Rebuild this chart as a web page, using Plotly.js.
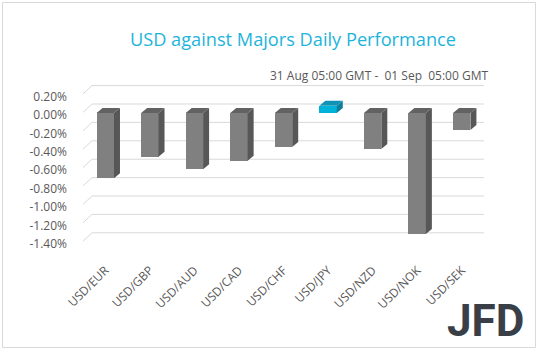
<!DOCTYPE html>
<html>
<head>
<meta charset="utf-8">
<script src="https://cdn.plot.ly/plotly-3.0.1.min.js"></script>
<style>html,body{margin:0;padding:0;background:#fff;}#chart{width:538px;height:351px;}</style>
</head>
<body>
<div id="chart"></div>
<script>
// ---- data ----
const categories = ['USD/EUR','USD/GBP','USD/AUD','USD/CAD','USD/CHF','USD/JPY','USD/NZD','USD/NOK','USD/SEK'];
const values = [-0.71, -0.475, -0.61, -0.52, -0.37, 0.08, -0.39, -1.315, -0.185]; // percent
const yTickVals = [0.2, 0, -0.2, -0.4, -0.6, -0.8, -1.0, -1.2, -1.4];
const yTickLabels = ['0.20%','0.00%','-0.20%','-0.40%','-0.60%','-0.80%','-1.00%','-1.20%','-1.40%'];
const titleText = 'USD against Majors Daily Performance';
const subtitleText = '31 Aug 05:00 GMT -\u00a0 01 Sep\u00a0 05:00 GMT';

// ---- geometry / style ----
const W = 538, H = 351;
const M = {l: 83, r: 54, t: 80, b: 101};
const plotW = W - M.l - M.r, plotH = H - M.t - M.b;
const xRange = [-0.5, 8.5];
const yRange = [-1.489, 0.3587];
const pxX = plotW / (xRange[1] - xRange[0]);
const pxY = plotH / (yRange[1] - yRange[0]);
const hw = 8.7 / pxX;       // half width of bar front
const ddx = 6 / pxX;        // bar depth x
const ddy = 5 / pxY;        // bar depth y
const wallDx = 10 / pxX, wallDy = 9 / pxY;

const greyFront = '#808080', greySide = '#575757', greyTop = '#626262';
const cyanFront = '#00b2da', cyanSide = '#0a7e9b', cyanTop = '#0f93b5';
const isHi = categories.map(c => c === 'USD/JPY');

const xs = categories.map((c, i) => i);
const traces = [];
traces.push({
  type: 'bar', x: xs, y: values, base: 0, width: 2 * hw,
  marker: {color: values.map((v, i) => isHi[i] ? cyanFront : greyFront), line: {width: 0}},
  hoverinfo: 'skip', showlegend: false
});
values.forEach((v, i) => {
  const top = Math.max(0, v), bot = Math.min(0, v);
  const xr = i + hw, xl = i - hw;
  traces.push({
    type: 'scatter', mode: 'lines', fill: 'toself',
    x: [xr, xr + ddx, xr + ddx, xr, xr],
    y: [bot, bot + ddy, top + ddy, top, bot],
    fillcolor: isHi[i] ? cyanSide : greySide, line: {width: 0},
    hoverinfo: 'skip', showlegend: false
  });
  traces.push({
    type: 'scatter', mode: 'lines', fill: 'toself',
    x: [xl, xr, xr + ddx, xl + ddx, xl],
    y: [top, top, top + ddy, top + ddy, top],
    fillcolor: isHi[i] ? cyanTop : greyTop, line: {width: 0},
    hoverinfo: 'skip', showlegend: false
  });
});

// gridlines on back wall + diagonal connectors
const shapes = [];
yTickVals.forEach(v => {
  shapes.push({type: 'line', layer: 'below', xref: 'x', yref: 'y',
    x0: xRange[0] + (9 / pxX), x1: xRange[1] + wallDx + 1 / pxX,
    y0: v + wallDy, y1: v + wallDy, line: {color: '#d9d9d9', width: 1}});
  shapes.push({type: 'line', layer: 'below', xref: 'x', yref: 'y',
    x0: xRange[0] - 4 / pxX, x1: xRange[0] + 9 / pxX,
    y0: v - 3 / pxY, y1: v + wallDy, line: {color: '#d9d9d9', width: 1}});
});
// outer frame
const toPX = px => (px - M.l) / plotW;
const toPY = py => (H - M.b - py) / plotH;
shapes.push({type: 'rect', xref: 'paper', yref: 'paper',
  x0: toPX(2.5), x1: toPX(535.5), y0: toPY(347.5), y1: toPY(2.5),
  line: {color: '#d9d9d9', width: 1}, fillcolor: 'rgba(0,0,0,0)'});

const font = 'Open Sans, Noto Sans, sans-serif';
const layout = {
  width: W, height: H, margin: M,
  paper_bgcolor: '#ffffff', plot_bgcolor: 'rgba(0,0,0,0)',
  showlegend: false, bargap: 0,
  font: {family: font, color: '#595959', size: 12},
  title: {text: titleText, x: 293 / W, xref: 'container', xanchor: 'center',
    y: 1 - 40 / H, yanchor: 'middle', yref: 'container',
    font: {family: font, size: 18.2, color: '#1db4da'}},
  xaxis: {range: xRange, tickvals: xs, ticktext: categories, tickangle: -45,
    showgrid: false, zeroline: false, showline: false, ticks: '',
    ticklabelstandoff: 10,
    tickfont: {size: 12, color: '#595959'}, fixedrange: true},
  yaxis: {range: yRange, tickvals: yTickVals, ticktext: yTickLabels,
    showgrid: false, zeroline: false, showline: false, ticks: '',
    ticklabelstandoff: 15, ticklabelshift: 2,
    tickfont: {size: 12, color: '#595959'}, fixedrange: true},
  shapes: shapes,
  annotations: [
    {text: subtitleText, xref: 'paper', yref: 'paper', x: toPX(490), y: toPY(75),
     xanchor: 'right', yanchor: 'middle', showarrow: false,
     font: {family: font, size: 12, color: '#595959'}},
    {text: '<b>JFD</b>', xref: 'paper', yref: 'paper', x: toPX(485), y: toPY(321),
     xanchor: 'center', yanchor: 'middle', showarrow: false,
     font: {family: 'Roboto, sans-serif', size: 44, color: '#3a3f47'}}
  ]
};
Plotly.newPlot('chart', traces, layout, {displayModeBar: false, staticPlot: true});
</script>
</body>
</html>
